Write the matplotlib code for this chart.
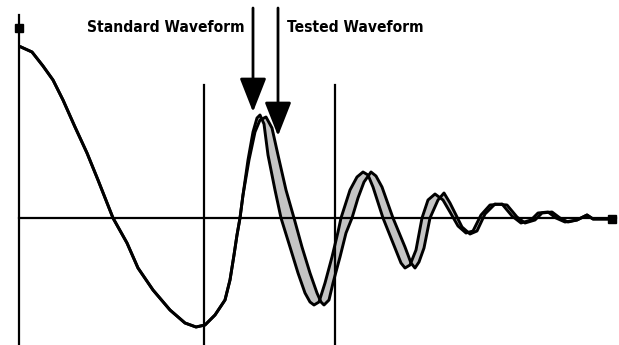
import matplotlib
matplotlib.use("Agg")
import matplotlib.pyplot as plt
from matplotlib import font_manager
from matplotlib.font_manager import FontProperties

# ---- data (time, amplitude) ----
std_t = [2, 13, 24, 34, 44, 56, 68, 79, 94, 108, 119, 134, 151, 166, 177, 186, 196, 206,
         211, 215, 218, 221, 224, 229, 234, 238, 241, 245, 249, 256, 262, 271, 279, 286,
         291, 295, 300, 306, 313, 319, 322, 331, 338, 344, 349, 354, 364, 374, 382, 386,
         391, 397, 403, 409, 416, 424, 431, 439, 447, 454, 462, 471, 483, 493, 502, 512,
         519, 529, 537, 546, 558, 568, 574, 591]
std_amp = [171, 166, 152, 138, 118, 91, 65, 38, 0, -25, -50, -72, -92, -105, -109, -107, -97, -82,
           -62, -37, -17, 0, 23, 58, 86, 100, 103, 94, 63, 28, 0, -29, -55, -75,
           -84, -87, -84, -65, -39, -14, 0, 28, 41, 46, 43, 31, 0, -25, -45, -50,
           -47, -32, 0, 18, 24, 18, 6, -8, -15, -13, 3, 13, 14, 2, -5, -2,
           5, 6, 0, -4, -2, 3, -1, -1]

tst_t = std_t[:23] + [230, 236, 241, 247, 253, 259, 267, 275, 283, 291, 298, 302, 305,
                      310, 314, 321, 327, 333, 339, 345, 352, 357, 363, 374, 386, 392, 396,
                      400, 405, 411, 419, 425, 431, 437, 443, 451, 458, 466, 476, 488, 498,
                      506, 516, 523, 533, 541, 549, 558, 568, 574, 591]
tst_amp = std_amp[:23] + [58, 86, 98, 101, 90, 63, 28, 0, -29, -55, -75, -84, -87,
                          -82, -65, -39, -15, 0, 20, 36, 46, 42, 31, 0, -29, -45, -50,
                          -44, -30, 0, 18, 25, 15, 3, -9, -16, -13, 4, 14, 13, 1,
                          -5, -2, 5, 6, 0, -4, -2, 3, -1, -1]

window_t = [185, 316]          # vertical marker lines
labels = ["Standard Waveform", "Tested Waveform"]

# ---- font: prefer a condensed / narrow face, else a monospace one ----
def pick_font():
    cands = []
    for f in font_manager.fontManager.ttflist:
        nm = (f.name + " " + f.fname).lower()
        narrow = ("condensed" in nm or "narrow" in nm or
                  str(f.stretch) in ("condensed", "semi-condensed", "extra-condensed"))
        if narrow and f.style == "normal":
            w = f.weight if isinstance(f.weight, int) else (700 if "bold" in str(f.weight) else 400)
            cands.append((abs(w - 700), f.fname))
    if cands:
        cands.sort()
        return FontProperties(fname=cands[0][1])
    return FontProperties(family="DejaVu Sans Mono", weight="bold")

fp = pick_font()

fig = plt.figure(figsize=(6.19, 3.45), dpi=100)
ax = fig.add_axes([0, 0, 1, 1])
ax.set_xlim(-19, 600)
ax.set_ylim(-127, 218)
ax.axis("off")

# gray band between the two waveforms
k = 22
poly_t = std_t[k:] + tst_t[k:][::-1]
poly_a = std_amp[k:] + tst_amp[k:][::-1]
ax.fill(poly_t, poly_a, color="#c4c4c4", lw=0, zorder=1)

# axes lines
ax.plot([0, 0], [-127, 203], color="black", lw=1.6, zorder=2)
ax.plot([0, 597], [0, 0], color="black", lw=1.6, zorder=2)
ax.plot([0], [190], marker="s", ms=6, color="black", zorder=2)
ax.plot([593], [-1], marker="s", ms=6, color="black", zorder=2)

# window lines
for wt in window_t:
    ax.plot([wt, wt], [-127, 133], color="black", lw=1.6, zorder=2)

# waveforms
ax.plot(tst_t, tst_amp, color="black", lw=2.1, zorder=3)
ax.plot(std_t, std_amp, color="black", lw=2.1, zorder=3)

# arrows
arrow_style = "-|>,head_length=1.4,head_width=0.55"
ax.annotate("", xy=(234, 106), xytext=(234, 210),
            arrowprops=dict(arrowstyle=arrow_style, mutation_scale=15, lw=2,
                            color="black", shrinkA=0, shrinkB=0), zorder=4)
ax.annotate("", xy=(259, 82), xytext=(259, 210),
            arrowprops=dict(arrowstyle=arrow_style, mutation_scale=15, lw=2,
                            color="black", shrinkA=0, shrinkB=0), zorder=4)

# labels: one common size, a compromise between the widths they span (~146 px)
t1 = ax.text(226, 190, labels[0], ha="right", va="center", fontproperties=fp.copy())
t2 = ax.text(268, 190, labels[1], ha="left", va="center", fontproperties=fp.copy())
fig.canvas.draw()
r = fig.canvas.get_renderer()
fits = []
for t in (t1, t2):
    t.set_fontsize(10)
    fits.append(10 * 146.0 / t.get_window_extent(r).width)
size = (fits[0] * fits[1]) ** 0.5
for t in (t1, t2):
    t.set_fontsize(size)

fig.savefig("out.png", dpi=100)
